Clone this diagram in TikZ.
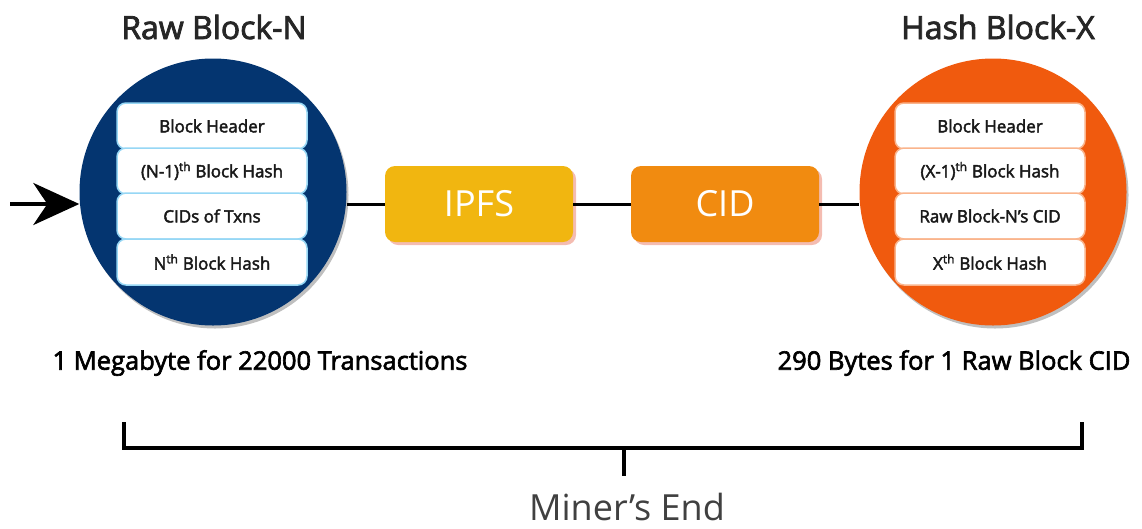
\documentclass[tikz,border=0pt]{standalone}
\usepackage{fontspec}
\usepackage{graphicx}
\setmainfont{Open Sans}
\newfontfamily\medfont{Open Sans}[FakeBold=2.5]
\newfontfamily\rowfont{Open Sans}[FakeBold=2.5]
\usetikzlibrary{arrows.meta,shadows}
\definecolor{navyc}{RGB}{4,53,112}
\definecolor{orangec}{RGB}{240,90,14}
\definecolor{ipfsc}{RGB}{241,182,16}
\definecolor{cidc}{RGB}{241,139,16}
\definecolor{glowblue}{RGB}{150,215,245}
\definecolor{gloworange}{RGB}{250,180,140}
\definecolor{txt}{RGB}{25,25,25}
\begin{document}
\begin{tikzpicture}[x=1pt,y=-1pt,
  bigcirc/.style={circle, inner sep=0pt, minimum size=267pt,
    drop shadow={shadow xshift=2pt, shadow yshift=-3pt, opacity=0.25, fill=black}},
  rowbox/.style={rounded corners=9pt, fill=white, minimum width=190pt, minimum height=46pt,
    inner sep=0pt, font=\rowfont\fontsize{17}{20}\selectfont, text=txt, line width=1.5pt},
  procbox/.style={rounded corners=10pt, minimum width=188pt, minimum height=76pt, inner sep=0pt,
    text=white, font=\fontsize{36}{40}\selectfont,
    drop shadow={shadow xshift=3pt, shadow yshift=-3pt, opacity=0.35, fill=red!50!brown}},
  conn/.style={line width=3pt, black},
  titletext/.style={font=\medfont\fontsize{32}{38}\selectfont, text=black!85},
  captext/.style={font=\medfont\fontsize{25.5}{30}\selectfont, text=black},
]
\useasboundingbox (0,0) rectangle (1142,528);

% circles
\node[bigcirc, fill=navyc] (lc) at (213,192) {};
\node[bigcirc, fill=orangec] (rc) at (993,192) {};

% left rows
\node[rowbox, draw=glowblue] (l1) at (212,126) {Block Header};
\node[rowbox, draw=glowblue] (l2) at (212,171) {(N-1)\textsuperscript{th} Block Hash};
\node[rowbox, draw=glowblue] (l3) at (212,216) {CIDs of Txns};
\node[rowbox, draw=glowblue] (l4) at (212,262) {N\textsuperscript{th} Block Hash};

% right rows
\node[rowbox, draw=gloworange] (r1) at (990,126) {Block Header};
\node[rowbox, draw=gloworange] (r2) at (990,171) {(X-1)\textsuperscript{th} Block Hash};
\node[rowbox, draw=gloworange] (r3) at (990,216) {Raw Block-N’s CID};
\node[rowbox, draw=gloworange] (r4) at (990,262) {X\textsuperscript{th} Block Hash};

% process boxes
\node[procbox, fill=ipfsc] (ipfs) at (479,204) {IPFS};
\node[procbox, fill=cidc] (cid) at (725,204) {CID};

% connectors
\coordinate (in) at (10,204);
\draw[line width=4pt, -{Stealth[length=46pt,width=42pt,inset=14pt]}] (in) -- (in -| lc.west);
\draw[conn] (ipfs.west -| lc.east) -- (ipfs.west);
\draw[conn] (ipfs.east) -- (cid.west);
\draw[conn] (cid.east) -- (cid.east -| rc.west);

% titles
\node[titletext] (tl) at (214,27) {Raw Block-N};
\node[titletext] (tr) at (998,27) {Hash Block-X};

% captions
\node[captext] (cl) at (260,363) {1 Megabyte for 22000 Transactions};
\node[captext] (cr) at (954,363) {290 Bytes for 1 Raw Block CID};

% bracket
\coordinate (bl) at (124,422);
\coordinate (br) at (1082,422);
\coordinate (bm) at (624,448);
\coordinate (bt) at (624,476);
\draw[line width=4pt] (bl) |- (bm) -| (br);
\draw[line width=4pt] (bm) -- (bt);

\node[font=\fontsize{36}{40}\selectfont, text=black!75, anchor=base, inner sep=0pt] (me) at (627,520) {Miner’s End};
\end{tikzpicture}
\end{document}
